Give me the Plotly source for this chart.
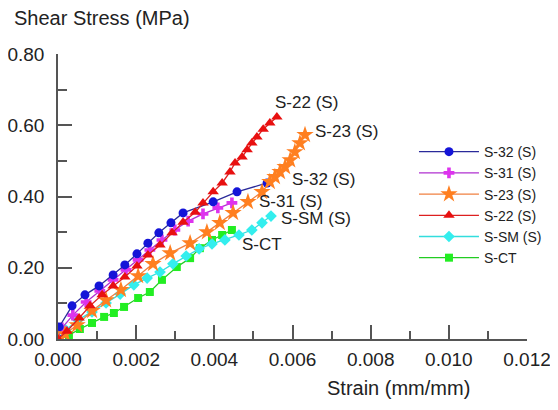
import plotly.graph_objects as go

# ---- data (strain mm/mm, shear stress MPa) ----
s32_x = [0.0, 0.00003, 0.00036, 0.00069, 0.00105, 0.00141, 0.00171, 0.00202, 0.00230,
         0.00258, 0.00289, 0.00320, 0.00397, 0.00458, 0.00535]
s32_y = [0.0, 0.034, 0.093, 0.124, 0.149, 0.180, 0.208, 0.239, 0.269,
         0.298, 0.326, 0.354, 0.385, 0.413, 0.438]

s31_x = [0.0, 0.0001, 0.00038, 0.00072, 0.00107, 0.00141, 0.00174, 0.00205, 0.00235, 0.00266,
         0.00299, 0.00333, 0.00371, 0.00409, 0.00445]
s31_y = [0.0, 0.031, 0.067, 0.104, 0.135, 0.166, 0.194, 0.222, 0.250, 0.278,
         0.306, 0.331, 0.351, 0.368, 0.382]

s23_x = [0.0, 0.00018, 0.00049, 0.00087, 0.00123, 0.00161, 0.00205, 0.00243, 0.00287, 0.00338,
         0.00381, 0.00414, 0.00448, 0.00486, 0.00522, 0.00542, 0.00555, 0.00568, 0.00581,
         0.00594, 0.00606, 0.00619, 0.00632]
s23_y = [0.0, 0.014, 0.039, 0.079, 0.109, 0.138, 0.177, 0.211, 0.241, 0.269,
         0.300, 0.326, 0.354, 0.385, 0.413, 0.441, 0.455, 0.469, 0.483,
         0.502, 0.525, 0.550, 0.573]

s22_x = [0.0, 0.00023, 0.00054, 0.00082, 0.00113, 0.00141, 0.00171, 0.00202, 0.00230, 0.00261,
         0.00292, 0.00320, 0.00351, 0.00371, 0.00397, 0.00420, 0.00440, 0.00453, 0.00471,
         0.00484, 0.00496, 0.00509, 0.00525, 0.00542, 0.00560]
s22_y = [0.0, 0.022, 0.059, 0.093, 0.124, 0.149, 0.174, 0.205, 0.236, 0.264,
         0.298, 0.328, 0.356, 0.382, 0.413, 0.438, 0.469, 0.494, 0.511,
         0.531, 0.550, 0.567, 0.589, 0.606, 0.623]

ssm_x = [0.0, 0.0002, 0.00051, 0.00087, 0.00123, 0.00159, 0.00194, 0.00228, 0.00261, 0.00294,
         0.00328, 0.00361, 0.00394, 0.00427, 0.00463, 0.00496, 0.00522, 0.00545]
ssm_y = [0.0, 0.025, 0.053, 0.076, 0.101, 0.126, 0.152, 0.171, 0.188, 0.211,
         0.233, 0.253, 0.267, 0.278, 0.292, 0.306, 0.326, 0.345]

sct_x = [0.0, 0.00028, 0.00056, 0.00087, 0.00118, 0.00143, 0.00169, 0.00205, 0.00235, 0.00266,
         0.00304, 0.00338, 0.00363, 0.00394, 0.00420, 0.00445]
sct_y = [0.0, 0.011, 0.028, 0.045, 0.062, 0.073, 0.090, 0.115, 0.132, 0.166,
         0.202, 0.227, 0.255, 0.278, 0.292, 0.306]

x_ticks = [0.000, 0.002, 0.004, 0.006, 0.008, 0.010, 0.012]
x_labels = ["0.000", "0.002", "0.004", "0.006", "0.008", "0.010", "0.012"]
y_ticks = [0.0, 0.2, 0.4, 0.6, 0.8]
y_labels = ["0.00", "0.20", "0.40", "0.60", "0.80"]

# name, x, y, line colour, marker colour, symbol, size, legend rank, label, label shifts
series = [
    ("S-CT", sct_x, sct_y, "#22cc22", "#22ee22", "square", 8, 6, "S-CT", 8, -15),
    ("S-SM (S)", ssm_x, ssm_y, "#33dddd", "#33eeee", "diamond", 9, 5, "S-SM (S)", 8, -2),
    ("S-31 (S)", s31_x, s31_y, "#b030d0", "#dd33ee", "cross", 9, 2, "S-31 (S)", 25, 1),
    ("S-32 (S)", s32_x, s32_y, "#2a2a9a", "#1414d8", "circle", 9, 1, "S-32 (S)", 23, 3),
    ("S-23 (S)", s23_x, s23_y, "#f08040", "#ff7f20", "star", 13, 3, "S-23 (S)", 8, 3),
    ("S-22 (S)", s22_x, s22_y, "#dd2020", "#e81010", "triangle-up", 10, 4, "S-22 (S)", -4, 15),
]

FONT = "Liberation Sans, Arial, sans-serif"
TXT = "#222222"

fig = go.Figure()
annotations = []
for name, xs, ys, lc, mc, sym, sz, rank, lab, dx, dy in series:
    fig.add_trace(go.Scatter(
        x=xs, y=ys, name=name, mode="lines+markers", legendrank=rank,
        line=dict(color=lc, width=1.3),
        marker=dict(symbol=sym, size=sz, color=mc, line=dict(width=0)),
    ))
    annotations.append(dict(
        x=xs[-1], y=ys[-1], xref="x", yref="y", text=lab, showarrow=False,
        xanchor="left", yanchor="middle", xshift=dx, yshift=dy,
        font=dict(family=FONT, size=17, color=TXT),
    ))

annotations.append(dict(
    x=-0.098, y=1.126, xref="paper", yref="paper", text="Shear Stress (MPa)",
    showarrow=False, xanchor="left", yanchor="middle",
    font=dict(family=FONT, size=20, color=TXT)))
annotations.append(dict(
    x=0.569, y=-0.172, xref="paper", yref="paper", text="Strain (mm/mm)",
    showarrow=False, xanchor="left", yanchor="middle",
    font=dict(family=FONT, size=20, color=TXT)))

axis_common = dict(
    showgrid=False, zeroline=False, showline=True, linecolor="#555555", linewidth=1.5,
    ticks="inside", ticklen=14, tickwidth=1.5, tickcolor="#555555", automargin=False,
    tickfont=dict(family=FONT, size=19, color=TXT),
)

fig.update_layout(
    template="none",
    width=550, height=402,
    margin=dict(l=50, r=31, t=46, b=71, autoexpand=False),
    paper_bgcolor="white", plot_bgcolor="white",
    showlegend=True,
    legend=dict(x=0.759, y=0.712, xanchor="left", yanchor="top",
                font=dict(family=FONT, size=14, color=TXT),
                bgcolor="rgba(0,0,0,0)", tracegroupgap=0, itemwidth=60),
    annotations=annotations,
    xaxis=dict(range=[0, 0.012], tickvals=x_ticks, ticktext=x_labels,
               minor=dict(ticks="inside", ticklen=8, tickwidth=1.5, tickcolor="#555555", dtick=0.001),
               ticklabelstandoff=2, **axis_common),
    yaxis=dict(range=[0, 0.8], tickvals=y_ticks, ticktext=y_labels,
               minor=dict(ticks="inside", ticklen=9, tickwidth=1.5, tickcolor="#555555", dtick=0.1),
               ticklabelstandoff=8, **axis_common),
)

fig.write_html("out.html")
